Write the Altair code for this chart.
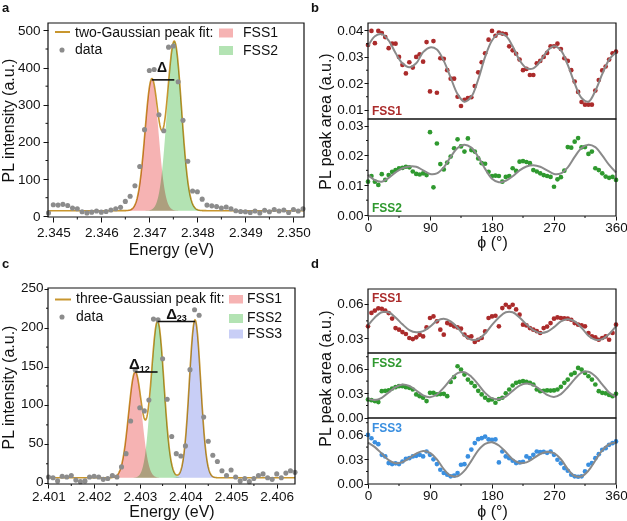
import altair as alt
import numpy as np
import pandas as pd

FONT = "Liberation Sans"
INK = "#111111"

FILL_FSS1 = "#f6b3b3"
FILL_FSS2 = "#b3e3b3"
FILL_FSS3 = "#c8cef6"
FIT_GOLD = "#c8962e"
DOT_GREY = "#8c8c8c"
CURVE_GREY = "#8a8a8a"
RED = "#ab2b2b"
GREEN = "#2f992f"
BLUE = "#3a8fe0"

# ------------------------------------------------------------ panel a data
A_ENERGY = [round(2.3449 + 0.0001 * i, 4) for i in range(54)]
A_COUNTS = [9, 31, 30, 32, 29, 22, 20, 12, 9, 11,
            14, 11, 13, 17, 20, 24, 40, 54, 82, 134,
            233, 392, 395, 273, 230, 455, 458, 362, 258, 148,
            68, 66, 46, 30, 28, 26, 22, 25, 20, 15,
            13, 12, 10, 14, 9, 16, 12, 18, 14, 17,
            10, 18, 14, 20]
A_FIT_BASE = 15
A_FIT_CENTER = [2.34705, 2.34752]
A_FIT_HEIGHT = [352, 455]
A_FIT_SIGMA = [0.00014, 0.00015]

# ------------------------------------------------------------ panel c data
C_ENERGY = [round(2.4010 + 0.0001 * i, 4) for i in range(55)]
C_COUNTS = [8, 7, 3, 9, 8, 10, 4, 2, 3, 8,
            9, 8, 5, 6, 10, 8, 21, 38, 80, 146,
            97, 93, 107, 211, 210, 160, 108, 60, 38, 35,
            48, 146, 223, 216, 85, 54, 36, 28, 16, 10,
            17, 8, 3, 6, 2, 6, 10, 12, 7, 5,
            12, 7, 13, 16, 14]
C_FIT_BASE = 7
C_FIT_CENTER = [2.40290, 2.40339, 2.40421]
C_FIT_HEIGHT = [136, 201, 203]
C_FIT_SIGMA = [0.000145, 0.00014, 0.000125]

# ------------------------------------------------------------ panels b and d data
PHI = list(range(0, 361, 5))
PHI_FIT = list(range(0, 361, 10))

B_FSS1 = [0.0345, 0.0398, 0.0352, 0.0398, 0.0390, 0.0375, 0.0333, 0.0350, 0.0350, 0.0300,
          0.0270, 0.0238, 0.0280, 0.0260, 0.0300, 0.0310, 0.0282, 0.0356, 0.0170, 0.0360,
          0.0165, 0.0295, 0.0293, 0.0250, 0.0218, 0.0218, 0.0150, 0.0115, 0.0138, 0.0145,
          0.0148, 0.0190, 0.0242, 0.0280, 0.0314, 0.0365, 0.0398, 0.0380, 0.0392, 0.0388,
          0.0386, 0.0340, 0.0325, 0.0312, 0.0290, 0.0250, 0.0255, 0.0232, 0.0232, 0.0276,
          0.0285, 0.0300, 0.0315, 0.0340, 0.0340, 0.0350, 0.0330, 0.0295, 0.0285, 0.0250,
          0.0207, 0.0168, 0.0130, 0.0120, 0.0120, 0.0120, 0.0173, 0.0213, 0.0249, 0.0264,
          0.0290, 0.0314, 0.0320]
B_FSS1_FIT = [0.0340, 0.0378, 0.0386, 0.0362, 0.0315, 0.0276, 0.0261, 0.0276, 0.0318, 0.0336,
              0.0328, 0.0285, 0.0222, 0.0160, 0.0131, 0.0150, 0.0215, 0.0300, 0.0362, 0.0388,
              0.0380, 0.0340, 0.0288, 0.0258, 0.0257, 0.0283, 0.0322, 0.0340, 0.0325, 0.0270,
              0.0200, 0.0145, 0.0131, 0.0172, 0.0235, 0.0290, 0.0318]

B_FSS2 = [0.0112, 0.0131, 0.0112, 0.0101, 0.0137, 0.0118, 0.0134, 0.0145, 0.0151, 0.0157,
          0.0158, 0.0162, 0.0160, 0.0146, 0.0138, 0.0136, 0.0140, 0.0134, 0.0278, 0.0093,
          0.0240, 0.0171, 0.0153, 0.0176, 0.0196, 0.0224, 0.0254, 0.0230, 0.0213, 0.0257,
          0.0218, 0.0213, 0.0190, 0.0174, 0.0172, 0.0145, 0.0131, 0.0132, 0.0131, 0.0112,
          0.0128, 0.0131, 0.0157, 0.0148, 0.0179, 0.0181, 0.0178, 0.0174, 0.0151, 0.0146,
          0.0140, 0.0134, 0.0131, 0.0128, 0.0095, 0.0120, 0.0127, 0.0149, 0.0228, 0.0226,
          0.0246, 0.0258, 0.0227, 0.0228, 0.0205, 0.0213, 0.0157, 0.0151, 0.0140, 0.0129,
          0.0125, 0.0128, 0.0118]
B_FSS2_FIT = [0.0135, 0.0117, 0.0112, 0.0125, 0.0143, 0.0157, 0.0163, 0.0162, 0.0150, 0.0138,
              0.0140, 0.0160, 0.0195, 0.0225, 0.0236, 0.0226, 0.0195, 0.0155, 0.0122, 0.0110,
              0.0115, 0.0130, 0.0150, 0.0163, 0.0167, 0.0162, 0.0150, 0.0138, 0.0140, 0.0160,
              0.0195, 0.0225, 0.0236, 0.0228, 0.0200, 0.0168, 0.0143]

D_FSS1 = [0.0402, 0.0520, 0.0540, 0.0560, 0.0556, 0.0540, 0.0518, 0.0470, 0.0387, 0.0373,
          0.0352, 0.0335, 0.0300, 0.0291, 0.0306, 0.0329, 0.0314, 0.0393, 0.0475, 0.0489,
          0.0446, 0.0373, 0.0329, 0.0431, 0.0417, 0.0402, 0.0393, 0.0382, 0.0330, 0.0306,
          0.0314, 0.0265, 0.0285, 0.0300, 0.0358, 0.0475, 0.0489, 0.0495, 0.0402, 0.0562,
          0.0591, 0.0570, 0.0591, 0.0550, 0.0504, 0.0417, 0.0410, 0.0387, 0.0373, 0.0360,
          0.0344, 0.0387, 0.0400, 0.0431, 0.0469, 0.0480, 0.0475, 0.0472, 0.0469, 0.0460,
          0.0431, 0.0417, 0.0410, 0.0402, 0.0344, 0.0314, 0.0306, 0.0285, 0.0300, 0.0314,
          0.0285, 0.0344, 0.0417]
D_FSS1_FIT = [0.0410, 0.0480, 0.0525, 0.0525, 0.0480, 0.0420, 0.0370, 0.0350, 0.0360, 0.0400,
              0.0450, 0.0468, 0.0445, 0.0390, 0.0320, 0.0285, 0.0290, 0.0340, 0.0415, 0.0480,
              0.0525, 0.0525, 0.0480, 0.0420, 0.0370, 0.0345, 0.0355, 0.0395, 0.0445, 0.0465,
              0.0445, 0.0390, 0.0320, 0.0285, 0.0290, 0.0335, 0.0405]

D_FSS2 = [0.0224, 0.0215, 0.0204, 0.0192, 0.0326, 0.0330, 0.0335, 0.0359, 0.0375, 0.0388,
          0.0388, 0.0375, 0.0367, 0.0347, 0.0286, 0.0265, 0.0245, 0.0204, 0.0306, 0.0306,
          0.0286, 0.0290, 0.0294, 0.0265, 0.0440, 0.0498, 0.0633, 0.0592, 0.0530, 0.0469,
          0.0430, 0.0388, 0.0330, 0.0286, 0.0245, 0.0216, 0.0224, 0.0184, 0.0230, 0.0245,
          0.0300, 0.0347, 0.0396, 0.0429, 0.0441, 0.0449, 0.0440, 0.0429, 0.0408, 0.0347,
          0.0326, 0.0330, 0.0335, 0.0333, 0.0335, 0.0347, 0.0380, 0.0429, 0.0469, 0.0530,
          0.0551, 0.0612, 0.0592, 0.0551, 0.0510, 0.0469, 0.0408, 0.0326, 0.0306, 0.0300,
          0.0280, 0.0265, 0.0294]
D_FSS2_FIT = [0.0235, 0.0218, 0.0245, 0.0310, 0.0375, 0.0408, 0.0390, 0.0335, 0.0275, 0.0252,
              0.0285, 0.0370, 0.0470, 0.0548, 0.0560, 0.0505, 0.0410, 0.0305, 0.0240, 0.0228,
              0.0260, 0.0330, 0.0395, 0.0420, 0.0400, 0.0345, 0.0280, 0.0255, 0.0290, 0.0375,
              0.0475, 0.0555, 0.0565, 0.0510, 0.0410, 0.0310, 0.0255]

D_FSS3 = [0.0600, 0.0559, 0.0510, 0.0486, 0.0355, 0.0335, 0.0253, 0.0241, 0.0250, 0.0241,
          0.0273, 0.0306, 0.0314, 0.0335, 0.0343, 0.0355, 0.0335, 0.0396, 0.0355, 0.0300,
          0.0241, 0.0171, 0.0131, 0.0110, 0.0090, 0.0100, 0.0131, 0.0233, 0.0240, 0.0335,
          0.0420, 0.0500, 0.0547, 0.0560, 0.0580, 0.0545, 0.0540, 0.0545, 0.0262, 0.0396,
          0.0335, 0.0314, 0.0282, 0.0253, 0.0262, 0.0270, 0.0335, 0.0314, 0.0355, 0.0396,
          0.0388, 0.0392, 0.0380, 0.0396, 0.0355, 0.0294, 0.0250, 0.0192, 0.0159, 0.0110,
          0.0090, 0.0085, 0.0090, 0.0151, 0.0233, 0.0253, 0.0314, 0.0363, 0.0416, 0.0437,
          0.0478, 0.0498, 0.0520]
D_FSS3_FIT = [0.0506, 0.0450, 0.0370, 0.0290, 0.0252, 0.0265, 0.0315, 0.0370, 0.0402, 0.0380,
              0.0300, 0.0180, 0.0098, 0.0092, 0.0160, 0.0280, 0.0410, 0.0490, 0.0510, 0.0470,
              0.0390, 0.0300, 0.0255, 0.0262, 0.0310, 0.0365, 0.0390, 0.0375, 0.0300, 0.0180,
              0.0095, 0.0090, 0.0160, 0.0285, 0.0410, 0.0485, 0.0508]

# ------------------------------------------------------------ axis ticks (major / minor)
A_XTICKS = [2.345, 2.346, 2.347, 2.348, 2.349, 2.350]
A_XMINOR = [2.3455, 2.3465, 2.3475, 2.3485, 2.3495]
A_YTICKS = [0, 100, 200, 300, 400, 500]
A_YMINOR = [50, 150, 250, 350, 450]
C_XTICKS = [2.401, 2.402, 2.403, 2.404, 2.405, 2.406]
C_XMINOR = [2.4015, 2.4025, 2.4035, 2.4045, 2.4055]
C_YTICKS = [0, 50, 100, 150, 200, 250]
C_YMINOR = [25, 75, 125, 175, 225]
PHI_TICKS = [0, 90, 180, 270, 360]
PHI_MINOR = [45, 135, 225, 315]
B1_YTICKS = [0.01, 0.02, 0.03, 0.04]
B1_YMINOR = [0.015, 0.025, 0.035]
B2_YTICKS = [0.0, 0.01, 0.02, 0.03]
B2_YMINOR = [0.005, 0.015, 0.025]
D1_YTICKS = [0.03, 0.06]
D1_YMINOR = [0.045]
D23_YTICKS = [0.0, 0.03, 0.06]
D23_YMINOR = [0.015, 0.045, 0.075]


def scale(domain, rng):
    return alt.Scale(domain=domain, range=rng, nice=False, zero=False)


def axis(orient, offset, values, fmt, tick, pad, **extra):
    return alt.Axis(
        orient=orient, offset=offset, values=values, format=fmt, tickSize=tick,
        labelPadding=pad, domain=False, grid=False, labelFlush=False,
        labelOverlap=False, labelFont=FONT, labelFontSize=13.5, labelColor=INK,
        titleFont=FONT, titleFontSize=16, titleFontWeight="normal", titleColor=INK,
        tickColor=INK, tickWidth=1, **extra)


class Panel:
    """Shared scales and axes for every layer drawn inside one frame."""

    def __init__(self, xdom, ydom, xrange, yrange, xa, ya):
        self.xdom, self.ydom = xdom, ydom
        self.xs, self.ys = scale(xdom, xrange), scale(ydom, yrange)
        self.xa, self.ya = xa, ya
        self.x0, self.y0 = xrange[0], yrange[0]

    def X(self, f="x"):
        return alt.X(f"{f}:Q", scale=self.xs, axis=self.xa)

    def Y(self, f="y"):
        return alt.Y(f"{f}:Q", scale=self.ys, axis=self.ya)

    def frame(self):
        df = pd.DataFrame({"x": [self.xdom[0]], "x2": [self.xdom[1]],
                           "y": [self.ydom[0]], "y2": [self.ydom[1]]})
        return alt.Chart(df).mark_rect(fillOpacity=0, stroke=INK, strokeWidth=1.2).encode(
            x=self.X(), x2="x2:Q", y=self.Y(), y2="y2:Q")

    def minor_x(self, values, length):
        df = pd.DataFrame({"x": values})
        return alt.Chart(df).mark_rule(color=INK, strokeWidth=1).encode(
            x=self.X(), y=alt.value(self.y0), y2=alt.value(self.y0 + length))

    def minor_y(self, values, length):
        df = pd.DataFrame({"y": values})
        return alt.Chart(df).mark_rule(color=INK, strokeWidth=1).encode(
            y=self.Y(), x=alt.value(self.x0 - length), x2=alt.value(self.x0))

    def rule(self, x0, x1, y):
        df = pd.DataFrame({"x": [x0], "x2": [x1], "y": [y]})
        return alt.Chart(df).mark_rule(color=INK, strokeWidth=1.6).encode(
            x=self.X(), x2="x2:Q", y=self.Y())

    def text(self, txt, x, y, size):
        df = pd.DataFrame({"x": [x], "y": [y]})
        return alt.Chart(df).mark_text(
            text=txt, font=FONT, fontSize=size, fontWeight="bold", color=INK,
            align="center", baseline="middle").encode(x=self.X(), y=self.Y())


def one_row():
    return pd.DataFrame({"k": [0]})


def label(txt, x, y, size=14, weight="normal", color=INK, align="left", baseline="middle"):
    return alt.Chart(one_row()).mark_text(
        text=txt, font=FONT, fontSize=size, fontWeight=weight, color=color,
        align=align, baseline=baseline).encode(x=alt.value(x), y=alt.value(y))


def swatch(x0, x1, y0, y1, fill):
    return alt.Chart(one_row()).mark_rect(color=fill).encode(
        x=alt.value(x0), x2=alt.value(x1), y=alt.value(y0), y2=alt.value(y1))


def legend_line(x0, x1, y):
    return alt.Chart(one_row()).mark_rule(color=FIT_GOLD, strokeWidth=2).encode(
        x=alt.value(x0), x2=alt.value(x1), y=alt.value(y))


def legend_dot(x, y):
    return alt.Chart(one_row()).mark_circle(size=26, color=DOT_GREY, opacity=1).encode(
        x=alt.value(x), y=alt.value(y))


def spectrum(p, energy, counts, base, centers, heights, sigmas, fills):
    grid = np.linspace(p.xdom[0], p.xdom[1], 700)
    peaks = [h * np.exp(-0.5 * ((grid - c) / s) ** 2)
             for c, h, s in zip(centers, heights, sigmas)]
    layers = []
    for peak, fill in zip(peaks, fills):
        df = pd.DataFrame({"x": grid, "y": base + peak, "y0": np.full_like(grid, base)})
        layers.append(alt.Chart(df).mark_area(color=fill, opacity=1, blend="multiply")
                      .encode(x=p.X(), y=p.Y(), y2="y0:Q"))
    fit = pd.DataFrame({"x": grid, "y": base + sum(peaks)})
    layers.append(alt.Chart(fit).mark_line(color=FIT_GOLD, strokeWidth=1.6, blend="multiply")
                  .encode(x=p.X(), y=p.Y()))
    pts = pd.DataFrame({"x": energy, "y": counts})
    layers.append(alt.Chart(pts).mark_circle(size=26, color=DOT_GREY, opacity=1)
                  .encode(x=p.X(), y=p.Y()))
    layers.append(p.frame())
    return layers


def angular(p, vals, fit_vals, color, yminor, with_xminor=False):
    pts = pd.DataFrame({"x": PHI, "y": vals})
    fit = pd.DataFrame({"x": PHI_FIT, "y": fit_vals})
    layers = [
        alt.Chart(pts).mark_circle(size=22, color=color, opacity=1).encode(x=p.X(), y=p.Y()),
        alt.Chart(fit).mark_line(color=CURVE_GREY, strokeWidth=2, interpolate="catmull-rom")
        .encode(x=p.X(), y=p.Y()),
        p.frame(),
        p.minor_y(yminor, 2),
    ]
    if with_xminor:
        layers.append(p.minor_x(PHI_MINOR, 2))
    return alt.layer(*layers)


# ------------------------------------------------------------ panel a
pa = Panel(
    [2.34489, 2.35022], [-2, 520], [48, 304], [217, 23],
    axis("bottom", -304, A_XTICKS, ".3f", 5, 3, title="Energy (eV)",
         titleX=171, titleY=37, titleBaseline="alphabetic"),
    axis("left", -48, A_YTICKS, "d", 5, 3, title="PL intensity (a.u.)",
         titleX=-32, titleY=120, titleAngle=270, titleBaseline="bottom", titleAlign="center"),
)
panel_a = alt.layer(
    *spectrum(pa, A_ENERGY, A_COUNTS, A_FIT_BASE, A_FIT_CENTER, A_FIT_HEIGHT, A_FIT_SIGMA,
              [FILL_FSS1, FILL_FSS2]),
    pa.rule(A_FIT_CENTER[0], A_FIT_CENTER[1], A_FIT_BASE + A_FIT_HEIGHT[0]),
    pa.text("Δ", 2.347264, 399, 14),
    pa.minor_x(A_XMINOR, 2.5),
    pa.minor_y(A_YMINOR, 2.5),
)

# ------------------------------------------------------------ panel c
pc = Panel(
    [2.40099, 2.4064], [-1, 251], [48, 295], [484, 288],
    axis("bottom", -37, C_XTICKS, ".3f", 4, 1.5, title="Energy (eV)",
         titleY=32.5, titleBaseline="alphabetic"),
    axis("left", -48, C_YTICKS, "d", 4, 1, title="PL intensity (a.u.)", labelOffset=-1.5,
         titleX=-32, titleY=387, titleAngle=270, titleBaseline="bottom", titleAlign="center"),
)
c_peak1 = C_FIT_BASE + C_FIT_HEIGHT[0]
c_peak2 = C_FIT_BASE + C_FIT_HEIGHT[1]
panel_c = alt.layer(
    *spectrum(pc, C_ENERGY, C_COUNTS, C_FIT_BASE, C_FIT_CENTER, C_FIT_HEIGHT, C_FIT_SIGMA,
              [FILL_FSS1, FILL_FSS2, FILL_FSS3]),
    pc.rule(C_FIT_CENTER[0], C_FIT_CENTER[1], c_peak1),
    pc.rule(C_FIT_CENTER[1], C_FIT_CENTER[2], c_peak2),
    pc.text("Δ", 2.40288, 153, 15),
    pc.text("12", 2.40311, 147, 9),
    pc.text("Δ", 2.40370, 218, 15),
    pc.text("23", 2.40392, 213, 9),
    pc.minor_x(C_XMINOR, 2),
    pc.minor_y(C_YMINOR, 2),
)

# ------------------------------------------------------------ panel b
PHI_DOM, PHI_RANGE = [0, 360], [368, 616]
pb1 = Panel(PHI_DOM, [0.0066, 0.0428], PHI_RANGE, [119, 23], None,
            axis("left", -368, B1_YTICKS, ".2f", 4, 1, title="PL peak area (a.u.)",
                 titleX=-35, titleY=121, titleAngle=270, titleBaseline="bottom",
                 titleAlign="center"))
pb2 = Panel(PHI_DOM, [-0.0003, 0.0322], PHI_RANGE, [216, 119],
            axis("bottom", -305, PHI_TICKS, "d", 4, 0, title="ϕ (°)",
                 titleY=31.5, titleBaseline="alphabetic"),
            axis("left", -368, B2_YTICKS, ".2f", 4, 1, title=""))
panel_b1 = angular(pb1, B_FSS1, B_FSS1_FIT, RED, B1_YMINOR)
panel_b2 = angular(pb2, B_FSS2, B_FSS2_FIT, GREEN, B2_YMINOR, with_xminor=True)

# ------------------------------------------------------------ panel d
pd1 = Panel(PHI_DOM, [0.0169, 0.0729], PHI_RANGE, [353, 289], None,
            axis("left", -368, D1_YTICKS, ".2f", 4, 1, title=""))
pd2 = Panel(PHI_DOM, [-0.0004, 0.0796], PHI_RANGE, [418, 353], None,
            axis("left", -368, D23_YTICKS, ".2f", 4, 1, title="PL peak area (a.u.)",
                 titleX=-35, titleY=378, titleAngle=270, titleBaseline="bottom",
                 titleAlign="center"))
pd3 = Panel(PHI_DOM, [-0.0004, 0.0808], PHI_RANGE, [484, 418],
            axis("bottom", -37, PHI_TICKS, "d", 4, 0, title="ϕ (°)",
                 titleY=32, titleBaseline="alphabetic"),
            axis("left", -368, D23_YTICKS, ".2f", 4, 1, title=""))
panel_d1 = angular(pd1, D_FSS1, D_FSS1_FIT, RED, D1_YMINOR)
panel_d2 = angular(pd2, D_FSS2, D_FSS2_FIT, GREEN, D23_YMINOR)
panel_d3 = angular(pd3, D_FSS3, D_FSS3_FIT, BLUE, D23_YMINOR, with_xminor=True)

# ------------------------------------------------------------ legends and labels
annotations = [
    # panel a legend
    legend_line(55, 70, 32),
    label("two-Gaussian peak fit:", 75, 32.5),
    legend_dot(62, 50),
    label("data", 75, 49.5),
    swatch(219, 233, 28.5, 37.5, FILL_FSS1),
    label("FSS1", 243, 33),
    swatch(219, 233, 46, 55, FILL_FSS2),
    label("FSS2", 243, 51),
    # panel c legend
    legend_line(55, 71, 299.5),
    label("three-Gaussian peak fit:", 76, 299),
    legend_dot(62, 317),
    label("data", 76, 316.5),
    swatch(229, 243, 295, 303.5, FILL_FSS1),
    label("FSS1", 247, 299),
    swatch(229, 243, 314, 323, FILL_FSS2),
    label("FSS2", 247, 318),
    swatch(229, 243, 329.5, 338.5, FILL_FSS3),
    label("FSS3", 247, 334),
    # sub-panel tags
    label("FSS1", 372, 115, 12, "bold", RED, baseline="alphabetic"),
    label("FSS2", 372, 212, 12, "bold", GREEN, baseline="alphabetic"),
    label("FSS1", 372, 302, 12, "bold", RED, baseline="alphabetic"),
    label("FSS2", 372, 367, 12, "bold", GREEN, baseline="alphabetic"),
    label("FSS3", 372, 432, 12, "bold", BLUE, baseline="alphabetic"),
    # panel letters
    label("a", 2, 11.5, 13, "bold", baseline="alphabetic"),
    label("b", 311, 11.5, 13, "bold", baseline="alphabetic"),
    label("c", 2, 268, 13, "bold", baseline="alphabetic"),
    label("d", 311, 268, 13, "bold", baseline="alphabetic"),
]

chart = alt.layer(
    panel_a, panel_c, panel_b1, panel_b2, panel_d1, panel_d2, panel_d3, *annotations
).resolve_scale(
    x="independent", y="independent"
).properties(
    width=627, height=521, padding=0, background="white",
    autosize=alt.AutoSizeParams(type="none"),
).configure_view(
    stroke=None
)

chart.save("out.html", embed_options={"renderer": "svg", "actions": False})
